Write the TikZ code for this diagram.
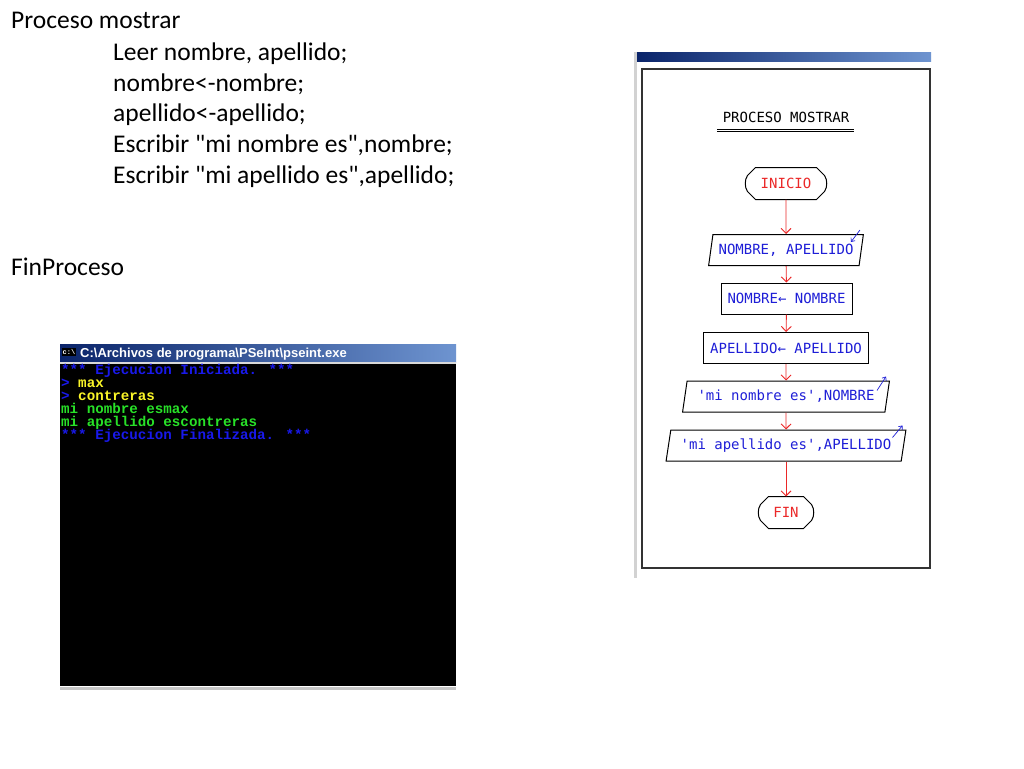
\documentclass[tikz,border=0pt]{standalone}
\usepackage{fontspec}
\setmainfont{Carlito}
\newfontfamily\consolefont{Liberation Mono}
\newfontfamily\chartfont{DejaVu Sans Mono}
\newfontfamily\wintitlefont{Liberation Sans}
\usetikzlibrary{shapes.geometric, arrows.meta, positioning}

\definecolor{navy}{RGB}{10,36,106}
\definecolor{lightnavy}{RGB}{110,148,208}
\definecolor{chartred}{RGB}{235,40,40}
\definecolor{chartblue}{RGB}{30,30,215}
\definecolor{conblue}{RGB}{25,25,235}
\definecolor{conyellow}{RGB}{250,245,40}
\definecolor{congreen}{RGB}{40,225,40}

% marco de inicio/fin: lados rectos arriba y abajo, esquinas cortadas
\newcommand*{\termframe}[1]{%
	\draw[line width=1pt] ([shift={(8,0)}]#1.north west) -- ([shift={(-8,0)}]#1.north east)
		-- ([shift={(0,8)}]#1.north east) .. controls ([shift={(3,12)}]#1.north east) and ([shift={(3,-12)}]#1.south east) .. ([shift={(0,-8)}]#1.south east)
		-- ([shift={(-8,0)}]#1.south east) -- ([shift={(8,0)}]#1.south west)
		-- ([shift={(0,-8)}]#1.south west) .. controls ([shift={(-3,-12)}]#1.south west) and ([shift={(-3,12)}]#1.north west) .. ([shift={(0,8)}]#1.north west)
		-- cycle;}

\begin{document}
\begin{tikzpicture}[x=1pt,y=-1pt,
	code/.style={anchor=base west,inner sep=0pt,font=\fontsize{25.5}{30}\selectfont},
	conline/.style={anchor=base west,inner sep=0pt,font=\consolefont\bfseries\fontsize{14.2}{14}\selectfont},
	chartbox/.style={draw,line width=1pt,minimum height=31,inner sep=2pt,font=\chartfont\fontsize{14}{14}\selectfont,text=chartblue},
	term/.style={chartbox,draw=none,rectangle,text=chartred},
	proc/.style={chartbox,rectangle},
	io/.style={chartbox,trapezium,trapezium left angle=76,trapezium right angle=104,trapezium stretches=true},
	flow/.style={draw=chartred,line width=0.9pt,-{Straight Barb[length=5pt,width=10pt]}},
	ioarrow/.style={draw=chartblue,line width=0.7pt,-{Straight Barb[length=3pt,width=5pt]}}]
	
	\useasboundingbox[fill=white] (0,0) rectangle (1024,768);
	
	% pseudocodigo
	\node[code] (l0) at (11,29) {Proceso mostrar};
	\node[code] (l1) at (113,60) {Leer nombre, apellido;};
	\node[code] (l2) at (113,91) {nombre<-nombre;};
	\node[code] (l3) at (113,121) {apellido<-apellido;};
	\node[code] (l4) at (113,152) {Escribir \textquotedbl mi nombre es\textquotedbl,nombre;};
	\node[code] (l5) at (113,183) {Escribir \textquotedbl mi apellido es\textquotedbl,apellido;};
	\node[code] (l6) at (11,275) {FinProceso};
	
	% consola
	\fill[left color=navy,right color=lightnavy] (60,344) rectangle (456,362);
	\fill[gray!30] (60,362) rectangle (456,364);
	\fill[black] (60,364) rectangle (456,686);
	\fill[gray!45] (60,687) rectangle (456,690);
	\node[fill=black,text=white,inner sep=1pt,font=\consolefont\bfseries\fontsize{7}{7}\selectfont] (icon) at (69,352) {c:\textbackslash};
	\node[anchor=base west,inner sep=0pt,text=white,font=\wintitlefont\bfseries\fontsize{13}{13}\selectfont] (wintitle) at (80,357.5) {C:\textbackslash Archivos de programa\textbackslash PSeInt\textbackslash pseint.exe};
	
	\node[conline,text=conblue] (c1) at (61,374) {*** Ejecucion Iniciada. ***};
	\node[conline,text=conblue] (c2) at (61,387) {> \textcolor{conyellow}{max}};
	\node[conline,text=conblue] (c3) at (61,400) {> \textcolor{conyellow}{contreras}};
	\node[conline,text=congreen] (c4) at (61,413) {mi nombre esmax};
	\node[conline,text=congreen] (c5) at (61,426) {mi apellido escontreras};
	\node[conline,text=conblue] (c6) at (61,439) {*** Ejecucion Finalizada. ***};
	
	% diagrama de flujo
	\fill[gray!35] (634,52) rectangle (637,578);
	\fill[left color=navy,right color=lightnavy] (637,53) rectangle (931,61);
	\draw[line width=1.2pt,black!80] (642,69) rectangle (930,568);
	
	\node[inner sep=0pt,minimum width=137,font=\chartfont\fontsize{14}{14}\selectfont] (title) at (786,117) {PROCESO MOSTRAR};
	\coordinate (ulA) at (717,130.5);
	\coordinate (ulB) at (854,130.5);
	\draw[double,double distance=1.6pt,line width=0.8pt] (ulA) -- (ulB);
	
	\node[term,minimum width=76] (inicio) at (786,183.5) {INICIO};
	\node[io,minimum width=155] (in1) at (786,250) {NOMBRE, APELLIDO};
	\node[proc,minimum width=131] (p1) at (786.5,298.5) {NOMBRE← NOMBRE};
	\node[proc,minimum width=165] (p2) at (786,348) {APELLIDO← APELLIDO};
	\node[io,minimum width=207] (out1) at (786,396.5) {'mi nombre es',NOMBRE};
	\node[io,minimum width=240] (out2) at (786,445.5) {'mi apellido es',APELLIDO};
	\node[term,minimum width=50] (fin) at (786,512.5) {FIN};
	\termframe{inicio}
	\termframe{fin}
	
	%%%%%%%%%%%%%%%%%%%%%%%%%%%%%%
	
	\draw[flow] (inicio) -- (in1);
	\draw[flow] (in1) -- (p1);
	\draw[flow] (p1) -- (p2);
	\draw[flow] (p2) -- (out1);
	\draw[flow] (out1) -- (out2);
	\draw[flow] (out2) -- (fin);
	
	\draw[ioarrow] ([shift={(-4,-4)}]in1.top right corner) -- ([shift={(-13,8)}]in1.top right corner);
	\draw[ioarrow] ([shift={(-13,10)}]out1.top right corner) -- ([shift={(-4,-4)}]out1.top right corner);
	\draw[ioarrow] ([shift={(-14,8)}]out2.top right corner) -- ([shift={(-4,-4)}]out2.top right corner);
	
\end{tikzpicture}
\end{document}
